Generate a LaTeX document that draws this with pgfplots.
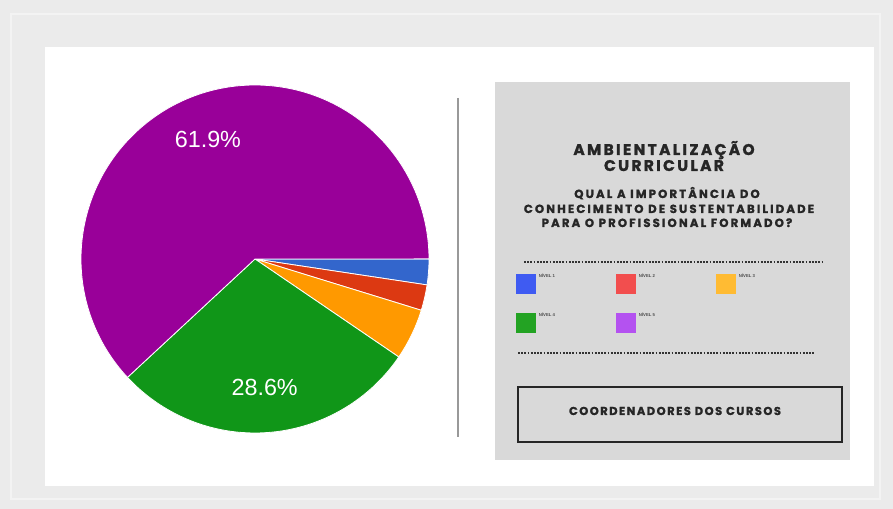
\documentclass[border=0pt]{standalone}
\usepackage{pgfplots}
\pgfplotsset{compat=1.18}
\usepackage{pgfplotstable}
\usepackage{fontspec}
\setmainfont{Liberation Sans}
\newfontfamily\titlefont[LetterSpace=15,BoldFeatures={FakeBold=1.4}]{Poppins}
\newfontfamily\subfont[LetterSpace=18,BoldFeatures={FakeBold=1.3}]{Poppins}
\newfontfamily\boxfont[LetterSpace=13,BoldFeatures={FakeBold=1.3}]{Poppins}

\definecolor{pieBlue}{HTML}{3366CC}
\definecolor{pieRed}{HTML}{DC3912}
\definecolor{pieOrange}{HTML}{FF9900}
\definecolor{pieGreen}{HTML}{109618}
\definecolor{piePurple}{HTML}{990099}
\definecolor{legBlue}{HTML}{3F5BF2}
\definecolor{legRed}{HTML}{F24E4E}
\definecolor{legOrange}{HTML}{FFBB33}
\definecolor{legGreen}{HTML}{23A323}
\definecolor{legPurple}{HTML}{B452F0}
\definecolor{pageBg}{HTML}{EBEBEB}
\definecolor{panelBg}{HTML}{D9D9D9}

% share of answers per level (%)
\pgfplotstableread{
level share col
1 2.38 pieBlue
2 2.38 pieRed
3 4.76 pieOrange
4 28.57 pieGreen
5 61.90 piePurple
}\piedata

\begin{document}
\begin{tikzpicture}
\begin{scope}[x=0.75pt,y=-0.75pt]
  \useasboundingbox (0,0) rectangle (893,509);
  \fill[pageBg] (0,0) rectangle (893,509);
  \fill[white!40!pageBg] (10,13) rectangle (881,500);
  \fill[pageBg] (12,15) rectangle (879,498);
  \fill[white] (45,47) rectangle (874,486);
  \fill[panelBg] (495,82) rectangle (850,460);
  \draw[gray!80, line width=1.2pt] (458,98) -- (458,437);
\end{scope}

\begin{axis}[
  at={(255*0.75pt,-259*0.75pt)}, anchor=center,
  hide axis,
  xmin=-1, xmax=1, ymin=-1, ymax=1,
  x=130.5pt, y=130.5pt,
  legend columns=3,
  legend style={
    at={(axis description cs:1.25,0.465)}, anchor=north west,
    draw=none, fill=none, inner sep=0pt,
    font=\fontsize{3.2}{4}\selectfont\bfseries\color{black!70},
    /tikz/every even column/.append style={column sep=0pt},
    row sep=12pt,
  },
  legend cell align=left,
  legend image code/.code={\fill[#1, draw=none] (0pt,-13pt) rectangle (15pt,2pt);},
]
\pgfplotsextra{
  \pgfplotstablegetrowsof{\piedata}
  \pgfmathtruncatemacro\lastrow{\pgfplotsretval-1}
  \gdef\cum{0}
  \foreach \i in {0,...,\lastrow}{
    \pgfplotstablegetelem{\i}{share}\of\piedata
    \let\sliceval\pgfplotsretval
    \pgfplotstablegetelem{\i}{col}\of\piedata
    \let\slicecol\pgfplotsretval
    \pgfmathsetmacro\angA{-3.6*\cum}
    \pgfmathsetmacro\angB{-3.6*(\cum+\sliceval)}
    \fill[fill=\slicecol, draw=white, line width=0.6pt]
      (axis cs:0,0) -- ++(\angA:130.5pt)
      arc[start angle=\angA, end angle=\angB, radius=130.5pt] -- cycle;
    \pgfmathsetmacro\newcum{\cum+\sliceval}
    \global\let\cum\newcum
  }
  \gdef\cum{0}
  \foreach \i in {0,...,\lastrow}{
    \pgfplotstablegetelem{\i}{share}\of\piedata
    \let\sliceval\pgfplotsretval
    \pgfmathsetmacro\angM{-3.6*(\cum+\sliceval/2)}
    \pgfmathparse{\sliceval>10 ? 1 : 0}
    \ifnum\pgfmathresult=1
      \node[text=white, font=\fontsize{17.5}{18}\selectfont]
        at (axis cs:{0.74*cos(\angM)},{0.74*sin(\angM)})
        {\pgfmathprintnumber[fixed,precision=1,assume math mode=true]{\sliceval}\%};
    \fi
    \pgfmathsetmacro\newcum{\cum+\sliceval}
    \global\let\cum\newcum
  }
}
\addlegendimage{fill=legBlue}\addlegendentry{\makebox[56pt][l]{NÍVEL 1}}
\addlegendimage{fill=legRed}\addlegendentry{\makebox[56pt][l]{NÍVEL 2}}
\addlegendimage{fill=legOrange}\addlegendentry{\makebox[56pt][l]{NÍVEL 3}}
\addlegendimage{fill=legGreen}\addlegendentry{\makebox[56pt][l]{NÍVEL 4}}
\addlegendimage{fill=legPurple}\addlegendentry{\makebox[56pt][l]{NÍVEL 5}}
\end{axis}

\begin{scope}[x=0.75pt,y=-0.75pt]
  \begin{scope}[every node/.style={anchor=base, text=black!85, inner sep=0pt}]
    \node[font=\titlefont\bfseries\fontsize{11.6}{12}\selectfont] at (664,155) {AMBIENTALIZAÇÃO};
    \node[font=\titlefont\bfseries\fontsize{11.6}{12}\selectfont] at (664,171) {CURRICULAR};
    \node[font=\subfont\bfseries\fontsize{8.8}{9}\selectfont] at (667,198) {QUAL A IMPORTÂNCIA DO};
    \node[font=\subfont\bfseries\fontsize{8.8}{9}\selectfont] at (669,213) {CONHECIMENTO DE SUSTENTABILIDADE};
    \node[font=\subfont\bfseries\fontsize{8.8}{9}\selectfont] at (667,227) {PARA O PROFISSIONAL FORMADO?};
    \node[font=\boxfont\bfseries\fontsize{8.6}{9}\selectfont] at (675,415) {COORDENADORES DOS CURSOS};
  \end{scope}
  \draw[black!80, line width=1.5pt, dash pattern=on 1.3pt off 1.1pt] (524,262) -- (822,262);
  \draw[black!80, line width=1.5pt, dash pattern=on 1.3pt off 1.1pt] (518,353) -- (815,353);
  \draw[black!85, line width=1.6pt] (518,387) rectangle (842,442);
\end{scope}
\end{tikzpicture}
\end{document}
